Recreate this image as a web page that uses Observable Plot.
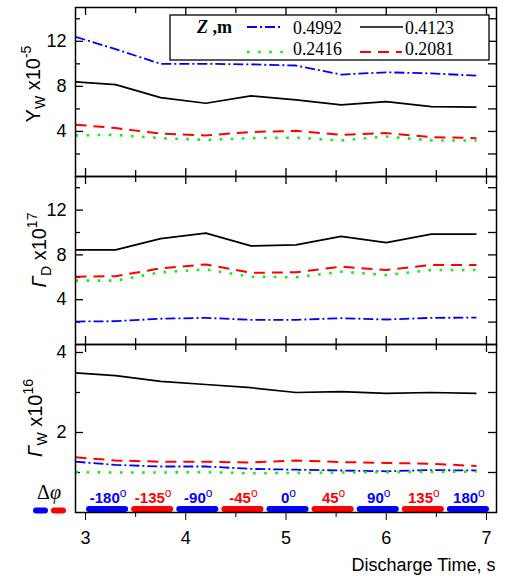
<!DOCTYPE html>
<html><head><meta charset="utf-8">
<script src="https://cdn.jsdelivr.net/npm/d3@7"></script>
<script src="https://cdn.jsdelivr.net/npm/@observablehq/plot@0.6"></script>
<style>
body{margin:0;background:#fff}
#chart{position:relative;width:509px;height:579px}
#chart svg{position:absolute;left:0;top:0}
</style></head><body><div id="chart"></div>
<script>
// ---------- data ----------
const time = [2.9, 3.3, 3.75, 4.2, 4.65, 5.1, 5.55, 6.0, 6.45, 6.9];
const zLabels = ["0.4992", "0.4123", "0.2416", "0.2081"];

// Y_W x10^-5
const yw_4992 = [12.4, 11.3, 10.0, 10.0, 9.95, 9.85, 9.05, 9.25, 9.15, 8.95];
const yw_4123 = [8.4, 8.15, 7.0, 6.5, 7.15, 6.8, 6.35, 6.65, 6.2, 6.15];
const yw_2416 = [3.65, 3.7, 3.4, 3.25, 3.4, 3.45, 3.2, 3.55, 3.2, 3.2];
const yw_2081 = [4.6, 4.3, 3.8, 3.65, 3.95, 4.05, 3.7, 3.85, 3.5, 3.4];

// Gamma_D x10^17
const gd_4992 = [2.05, 2.08, 2.3, 2.38, 2.2, 2.2, 2.35, 2.23, 2.38, 2.4];
const gd_4123 = [8.45, 8.45, 9.45, 9.95, 8.8, 8.9, 9.65, 9.1, 9.85, 9.85];
const gd_2416 = [5.7, 5.7, 6.45, 6.7, 6.05, 6.0, 6.5, 6.2, 6.65, 6.65];
const gd_2081 = [6.05, 6.1, 6.8, 7.15, 6.4, 6.45, 6.95, 6.65, 7.1, 7.1];

// Gamma_W x10^16
const gw_4992 = [1.27, 1.19, 1.15, 1.15, 1.09, 1.07, 1.05, 1.03, 1.06, 1.05];
const gw_4123 = [3.49, 3.42, 3.28, 3.2, 3.12, 3.0, 3.02, 2.98, 3.0, 2.98];
const gw_2416 = [1.01, 1.0, 1.0, 1.01, 0.98, 0.99, 1.0, 1.01, 1.02, 1.02];
const gw_2081 = [1.38, 1.3, 1.27, 1.27, 1.25, 1.3, 1.26, 1.24, 1.22, 1.16];

// phase shift segments
const phaseStart = [3.0, 3.45, 3.9, 4.35, 4.8, 5.25, 5.7, 6.15, 6.6];
const phaseEnd = [3.45, 3.9, 4.35, 4.8, 5.25, 5.7, 6.15, 6.6, 7.05];
const phaseLabels = ["-180", "-135", "-90", "-45", "0", "45", "90", "135", "180"];

const xTicksMajor = [3, 4, 5, 6, 7];
const xTicksMinor = [3.5, 4.5, 5.5, 6.5];
const xTitle = "Discharge Time, s";

// ---------- styles ----------
const BLUE = "#0000ff", RED = "#ff0000", GREEN = "#11ee11", BLACK = "#000000";
const styleOf = {
  "0.4992": {stroke: BLUE, strokeWidth: 1.8, strokeDasharray: "10,3,2,3"},
  "0.4123": {stroke: BLACK, strokeWidth: 1.7, strokeDasharray: null},
  "0.2416": {stroke: GREEN, strokeWidth: 2.6, strokeDasharray: "2.6,8.5"},
  "0.2081": {stroke: RED, strokeWidth: 2.0, strokeDasharray: "11,7"}
};

const W = 509, HS = 579, ML = 75, MR = 13, FW = W - ML - MR;
const FONT = "Liberation Sans, Arial, sans-serif";
const SERIF = "Liberation Serif, Times New Roman, serif";
const chart = document.getElementById("chart");

function panel({top, bottom, yDomain, yMajor, yMinor, yTickLabels, series, last}) {
  const H = bottom - top;
  const marks = [];
  marks.push(Plot.tickX(xTicksMajor, {x: d => d, insetBottom: H - 8, stroke: "black", strokeWidth: 1.3}));
  marks.push(Plot.tickX(xTicksMinor, {x: d => d, insetBottom: H - 6, stroke: "black", strokeWidth: 1.3}));
  if (!last) {
    marks.push(Plot.tickX(xTicksMajor, {x: d => d, insetTop: H - 8, stroke: "black", strokeWidth: 1.3}));
    marks.push(Plot.tickX(xTicksMinor, {x: d => d, insetTop: H - 6, stroke: "black", strokeWidth: 1.3}));
  }
  marks.push(Plot.tickY(yMajor, {y: d => d, insetRight: FW - 8, stroke: "black", strokeWidth: 1.3}));
  marks.push(Plot.tickY(yMinor, {y: d => d, insetRight: FW - 5, stroke: "black", strokeWidth: 1.3}));
  marks.push(Plot.tickY(yMajor.concat(yMinor), {y: d => d, insetLeft: FW - 8, stroke: "black", strokeWidth: 1.3}));
  marks.push(Plot.axisY({ticks: yTickLabels, tickSize: 0, tickPadding: 9, fontSize: 18, label: null, tickFormat: d => String(d)}));
  zLabels.forEach((z, k) => {
    const vals = series[k];
    const s = styleOf[z];
    marks.push(Plot.line(time.map((t, i) => ({t, v: vals[i]})), {
      x: "t", y: "v", stroke: s.stroke, strokeWidth: s.strokeWidth,
      strokeDasharray: s.strokeDasharray, strokeLinecap: "butt"
    }));
  });
  if (last) {
    const phases = phaseStart.map((s, i) => ({start: s, end: phaseEnd[i], label: phaseLabels[i], color: i % 2 === 0 ? BLUE : RED}));
    marks.push(Plot.barX(phases, {x1: "start", x2: "end", fill: "color", insetTop: H - 6, insetBottom: 0, insetLeft: 1, insetRight: 2, rx: 3}));
    marks.push(Plot.text(phases, {x: d => (d.start + d.end) / 2, frameAnchor: "bottom", dy: -14, lineAnchor: "middle",
      text: "label", fill: "color", fontWeight: "bold", fontSize: 15}));
    marks.push(Plot.axisX({ticks: xTicksMajor, tickSize: 8, tickPadding: 11, fontSize: 18, label: null, tickFormat: d => String(d)}));
    marks.push(Plot.axisX({ticks: xTicksMinor, tickSize: 5, tickFormat: () => "", label: null}));
    marks.push(Plot.text([xTitle], {text: d => d, frameAnchor: "bottom-right", textAnchor: "end", lineAnchor: "middle", dy: 53, dx: -1, fontSize: 18}));
  }
  marks.push(Plot.frame({stroke: "black", strokeWidth: 1.5}));
  const svg = Plot.plot({
    width: W, height: HS,
    marginLeft: ML, marginRight: MR, marginTop: top, marginBottom: HS - bottom,
    x: {domain: [2.9, 7.1], axis: last ? undefined : null},
    y: {domain: yDomain},
    style: {fontFamily: FONT, fontSize: "18px", background: "transparent", overflow: "visible", color: "black"},
    marks
  });
  chart.appendChild(svg);
  return svg;
}

const svg1 = panel({top: 7, bottom: 176, yDomain: [0, 15], yMajor: [4, 8, 12], yMinor: [2, 6, 10, 14], yTickLabels: [4, 8, 12],
  series: [yw_4992, yw_4123, yw_2416, yw_2081], last: false});
const svg2 = panel({top: 176, bottom: 344, yDomain: [0, 15], yMajor: [4, 8, 12], yMinor: [2, 6, 10, 14], yTickLabels: [4, 8, 12],
  series: [gd_4992, gd_4123, gd_2416, gd_2081], last: false});
const svg3 = panel({top: 344, bottom: 512, yDomain: [0, 4.2], yMajor: [2, 4], yMinor: [1, 3], yTickLabels: [2, 4],
  series: [gw_4992, gw_4123, gw_2416, gw_2081], last: true});

// degree superscripts on phase labels
const phaseSet = new Set(phaseLabels);
d3.select(svg3).selectAll("text").filter(function () {
  return phaseSet.has(this.textContent) && this.closest('g[font-weight="bold"]');
}).each(function () {
  d3.select(this).append("tspan").attr("dy", "-0.55em").attr("font-size", 12).attr("font-weight", "normal").text("o");
});

// y-axis titles
function yTitle(svg, x, y, parts) {
  const t = d3.select(svg).append("text")
    .attr("transform", `translate(${x},${y}) rotate(-90)`)
    .attr("text-anchor", "middle").attr("font-family", FONT).attr("font-size", 20).attr("fill", "black");
  for (const p of parts) {
    const ts = t.append("tspan").text(p.t);
    if (p.size) ts.attr("font-size", p.size);
    if (p.dy) ts.attr("dy", p.dy);
    if (p.italic) ts.attr("font-style", "italic");
  }
}
yTitle(svg1, 40, 84, [{t: "Y"}, {t: "W", size: 14, dy: 5}, {t: " x10", dy: -5}, {t: "-5", size: 14, dy: -9}]);
yTitle(svg2, 46, 250, [{t: "Γ", italic: true}, {t: "D", size: 14, dy: 5}, {t: " x10", dy: -5}, {t: "17", size: 14, dy: -9}]);
yTitle(svg3, 42, 418, [{t: "Γ", italic: true}, {t: "W", size: 14, dy: 5}, {t: " x10", dy: -5}, {t: "16", size: 14, dy: -9}]);

// legend in top panel
const lg = d3.select(svg1).append("g").attr("text-anchor", "start");
lg.append("rect").attr("x", 170).attr("y", 15).attr("width", 319).attr("height", 45)
  .attr("fill", "white").attr("stroke", "black").attr("stroke-width", 1.3);
const zt = lg.append("text").attr("x", 197).attr("y", 33).attr("font-family", SERIF).attr("font-size", 18).attr("font-weight", "bold").attr("fill", "black");
zt.append("tspan").attr("font-style", "italic").text("Z");
zt.append("tspan").text(" ,m");
const legPos = [{x1: 247, x2: 281, tx: 293, ly: 27, ty: 34}, {x1: 360, x2: 403, tx: 405, ly: 27, ty: 34},
                {x1: 247, x2: 283, tx: 293, ly: 52, ty: 55}, {x1: 360, x2: 402, tx: 405, ly: 52, ty: 55}];
zLabels.forEach((z, i) => {
  const p = legPos[i], s = styleOf[z];
  lg.append("line").attr("x1", p.x1).attr("x2", p.x2).attr("y1", p.ly).attr("y2", p.ly)
    .attr("stroke", s.stroke).attr("stroke-width", s.strokeWidth).attr("stroke-dasharray", s.strokeDasharray);
  lg.append("text").attr("x", p.tx).attr("y", p.ty).attr("font-family", SERIF).attr("font-size", 18).attr("fill", "black")
    .attr("textLength", 49).attr("lengthAdjust", "spacingAndGlyphs").text(z);
});

// delta-phi key
const dk = d3.select(svg3).append("g");
const dt = dk.append("text").attr("x", 49).attr("y", 499).attr("text-anchor", "middle").attr("font-family", SERIF).attr("font-size", 20).attr("fill", "black");
dt.append("tspan").text("Δ");
dt.append("tspan").attr("font-style", "italic").text("φ");
dk.append("rect").attr("x", 33).attr("y", 507.5).attr("width", 15).attr("height", 6).attr("rx", 3).attr("fill", BLUE);
dk.append("rect").attr("x", 51).attr("y", 507.5).attr("width", 15).attr("height", 6).attr("rx", 3).attr("fill", RED);
</script></body></html>
